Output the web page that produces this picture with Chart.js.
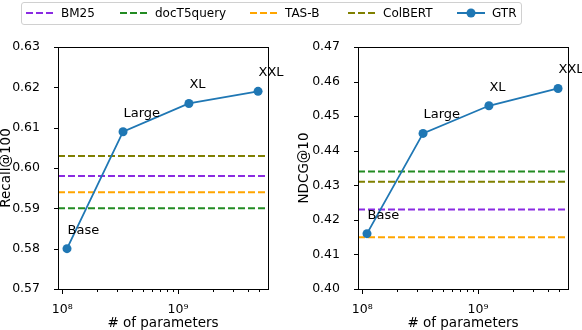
<!DOCTYPE html>
<html>
<head>
<meta charset="utf-8">
<script src="https://cdn.jsdelivr.net/npm/chart.js@4/dist/chart.umd.min.js"></script>
<style>
  body { margin: 0; width: 582px; height: 330px; position: relative; background: #fff; overflow: hidden; font-family: "DejaVu Sans", sans-serif; }
  #left { position: absolute; left: 0; top: 0; }
  #right { position: absolute; left: 290px; top: 0; }
  #legend { position: absolute; left: 21px; top: 2px; width: 499px; height: 21px; border: 1px solid #d0d0d0; border-radius: 3px; background: #fff; z-index: 2; }
  .item { position: absolute; top: 0; height: 21px; font-size: 12px; line-height: 21px; color: #000; white-space: nowrap; }
  .item svg { position: absolute; left: 0; top: 4px; }
  .item span { position: absolute; left: 35px; top: 0; }
</style>
</head>
<body>
<div id="legend"></div>
<canvas id="left" width="290" height="330"></canvas>
<canvas id="right" width="292" height="330"></canvas>
<script>
// GTR model sizes
const modelNames = ['Base', 'Large', 'XL', 'XXL'];
const modelParams = [1.1e8, 3.35e8, 1.24e9, 4.9e9];
const gtrRecall = [0.580, 0.609, 0.616, 0.619];
const gtrNdcg = [0.416, 0.445, 0.453, 0.458];

// baselines (flat lines)
const baselineNames = ['BM25', 'docT5query', 'TAS-B', 'ColBERT'];
const baselineColors = ['#8a2be2', '#228b22', '#ffa500', '#808000'];
const baselineRecall = [0.598, 0.590, 0.594, 0.603];
const baselineNdcg = [0.423, 0.434, 0.415, 0.431];
const gtrColor = '#1f77b4';

// axes
const xMin = 9.2e7, xMax = 5.97e9;
const xMajorTicks = [1e8, 1e9];
const xMajorLabels = ['10⁸', '10⁹'];
const xMinorTicks = [2e8, 3e8, 4e8, 5e8, 6e8, 7e8, 8e8, 9e8, 2e9, 3e9, 4e9, 5e9];
const recallTicks = [0.57, 0.58, 0.59, 0.60, 0.61, 0.62, 0.63];
const ndcgTicks = [0.40, 0.41, 0.42, 0.43, 0.44, 0.45, 0.46, 0.47];

Chart.defaults.font.family = '"DejaVu Sans", sans-serif';
Chart.defaults.color = '#000';

// legend (html)
const legend = document.getElementById('legend');
const legendX = [4, 98, 228, 326, 435];
baselineNames.concat(['GTR']).forEach((name, i) => {
  const col = i < 4 ? baselineColors[i] : gtrColor;
  const d = document.createElement('div');
  d.className = 'item';
  d.style.left = legendX[i] + 'px';
  let svg = '<svg width="28" height="12">';
  if (i < 4) {
    svg += '<line x1="0" y1="6" x2="28" y2="6" stroke="' + col + '" stroke-width="2" stroke-dasharray="7,3"/>';
  } else {
    svg += '<line x1="0" y1="6" x2="28" y2="6" stroke="' + col + '" stroke-width="2"/><circle cx="14" cy="6" r="4.5" fill="' + col + '"/>';
  }
  svg += '</svg>';
  d.innerHTML = svg + '<span>' + name + '</span>';
  legend.appendChild(d);
});

// spines, tick marks and point labels
const framePlugin = {
  id: 'frame',
  afterDatasetsDraw(chart) {
    const ctx = chart.ctx;
    const a = chart.chartArea;
    const xs = chart.scales.x, ys = chart.scales.y;
    ctx.save();
    ctx.strokeStyle = '#000';
    ctx.lineWidth = 1;
    const L = Math.round(a.left) + 0.5, T = Math.round(a.top) + 0.5;
    const R = Math.round(a.right) + 0.5, B = Math.round(a.bottom) + 0.5;
    ctx.strokeRect(L, T, R - L, B - T);
    ctx.beginPath();
    ys.ticks.forEach(t => {
      const y = Math.round(ys.getPixelForValue(t.value)) + 0.5;
      ctx.moveTo(L - 4.5, y); ctx.lineTo(L, y);
    });
    xMajorTicks.forEach(v => {
      const x = Math.round(xs.getPixelForValue(v)) + 0.5;
      ctx.moveTo(x, B); ctx.lineTo(x, B + 4.5);
    });
    xMinorTicks.forEach(v => {
      const x = Math.round(xs.getPixelForValue(v)) + 0.5;
      ctx.moveTo(x, B); ctx.lineTo(x, B + 2.5);
    });
    ctx.stroke();

    const meta = chart.getDatasetMeta(0);
    ctx.fillStyle = '#000';
    ctx.font = '13px "DejaVu Sans"';
    ctx.textAlign = 'left';
    ctx.textBaseline = 'alphabetic';
    meta.data.forEach((p, i) => {
      ctx.fillText(modelNames[i], p.x + 0.5, p.y - 15);
    });
    ctx.restore();
  }
};

function makeChart(id, gtrVals, baseVals, yTicks, yTitle, yWidth, titlePad, padRight) {
  const datasets = [{
    label: 'GTR',
    data: modelParams.map((x, i) => ({ x: x, y: gtrVals[i] })),
    borderColor: gtrColor,
    backgroundColor: gtrColor,
    borderWidth: 1.8,
    pointRadius: 4.5,
    pointBorderWidth: 0,
    order: 0,
    clip: false
  }];
  baselineNames.forEach((name, i) => {
    datasets.push({
      label: name,
      data: [{ x: xMin, y: baseVals[i] }, { x: xMax, y: baseVals[i] }],
      borderColor: baselineColors[i],
      borderWidth: 2,
      borderDash: [7, 3],
      pointRadius: 0,
      order: 1
    });
  });
  return new Chart(document.getElementById(id), {
    type: 'line',
    data: { datasets: datasets },
    options: {
      responsive: false,
      animation: false,
      events: [],
      layout: { padding: { top: 47, right: padRight, left: 0, bottom: 0 } },
      plugins: { legend: { display: false }, tooltip: { enabled: false } },
      scales: {
        x: {
          type: 'logarithmic',
          min: xMin,
          max: xMax,
          grid: { display: false },
          border: { display: false },
          afterBuildTicks: s => { s.ticks = xMajorTicks.concat(xMinorTicks).map(v => ({ value: v })); },
          afterFit: s => { s.height = 41; },
          ticks: {
            autoSkip: false,
            maxRotation: 0,
            padding: 5,
            font: { size: 12.5 },
            callback: v => {
              const k = xMajorTicks.indexOf(v);
              return k >= 0 ? xMajorLabels[k] : '';
            }
          },
          title: { display: true, text: '# of parameters', font: { size: 13.5, lineHeight: 1 }, padding: 0 }
        },
        y: {
          min: yTicks[0],
          max: yTicks[yTicks.length - 1],
          grid: { display: false },
          border: { display: false },
          afterBuildTicks: s => { s.ticks = yTicks.map(v => ({ value: v })); },
          afterFit: s => { s.width = yWidth; },
          ticks: { padding: 10, font: { size: 12.5 }, callback: v => v.toFixed(2) },
          title: { display: true, text: yTitle, font: { size: 13.5, lineHeight: 1 }, padding: { top: titlePad, bottom: 0 } }
        }
      }
    },
    plugins: [framePlugin]
  });
}

makeChart('left', gtrRecall, baselineRecall, recallTicks, 'Recall@100', 58, 0, 22);
makeChart('right', gtrNdcg, baselineNdcg, ndcgTicks, 'NDCG@10', 68, 8, 14);
</script>
</body>
</html>
